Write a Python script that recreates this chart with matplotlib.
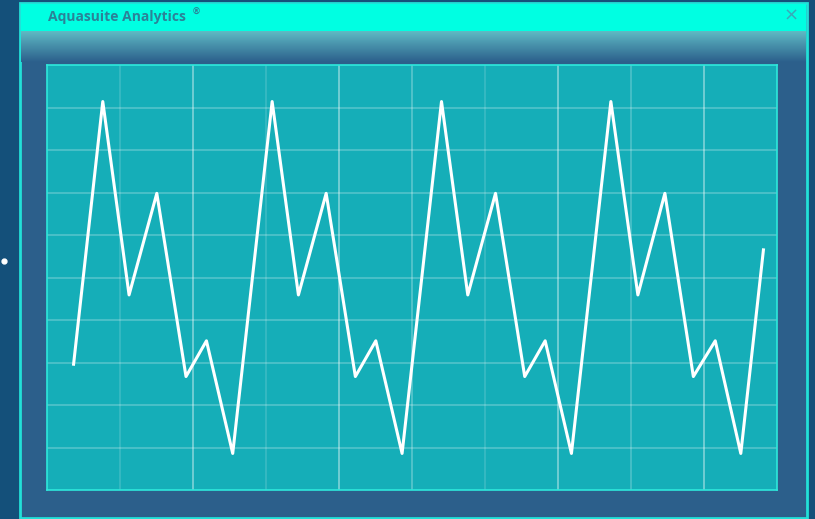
import numpy as np
import matplotlib
matplotlib.use('Agg')
from matplotlib import pyplot as plt
from matplotlib.patches import Rectangle

# data (x in grid units, y in percent of the panel)
x_vals = [0.36, 0.76, 1.12, 1.50, 1.90, 2.18, 2.54,
          3.08, 3.44, 3.82, 4.22, 4.50, 4.86,
          5.40, 5.76, 6.14, 6.54, 6.82, 7.18,
          7.72, 8.09, 8.46, 8.85, 9.15, 9.50, 9.81]
y_vals = [29.6, 91.4, 45.9, 69.8, 26.7, 35.1, 8.6,
          91.4, 45.9, 69.8, 26.7, 35.1, 8.6,
          91.4, 45.9, 69.8, 26.7, 35.1, 8.6,
          91.4, 45.9, 69.8, 26.7, 35.1, 8.6, 56.5]
vgrid = [1, 2, 3, 4, 5, 6, 7, 8, 9]
vgrid_alpha = [0.15, 0.42, 0.15, 0.42, 0.28, 0.15, 0.42, 0.22, 0.42]
hgrid = [10, 20, 30, 40, 50, 60, 70, 80, 90]
title = 'Aquasuite Analytics'

W, H = 815, 519
fig = plt.figure(figsize=(W / 100, H / 100), dpi=100)
fig.patch.set_facecolor('#14507a')

# background canvas in pixel coordinates
bg = fig.add_axes([0, 0, 1, 1])
bg.axis('off')
bg.add_patch(Rectangle((0, 0), W, H, color='#14507a', zorder=0))

# window body + border
bg.add_patch(Rectangle((20, 3), 787, 515, facecolor='#2c5f8b',
                       edgecolor='#22e0d8', lw=2, zorder=1))
# title bar
bg.add_patch(Rectangle((21, 4), 785, 27, facecolor='#00ffe2',
                       edgecolor='none', zorder=2))
# gradient band under title bar
grad = np.linspace(0, 1, 64).reshape(-1, 1)
top = np.array([95, 186, 196]) / 255
bot = np.array([44, 96, 140]) / 255
img = top + (bot - top) * grad[..., None]
img = np.repeat(img, 2, axis=1)
bg.imshow(img, extent=(21, 806, 62, 31), aspect='auto', zorder=2)
bg.set_xlim(0, W)
bg.set_ylim(H, 0)

bg.text(48, 17.5, title, fontsize=10, fontweight='bold', family='Open Sans',
        color='#2b8298', va='center', ha='left', zorder=3)
bg.text(192, 12, '®', fontsize=6.5, fontweight='bold', family='DejaVu Sans',
        color='#2b8298', va='center', ha='left', zorder=3)
bg.text(791, 16, '×', fontsize=13, family='DejaVu Sans',
        color='#3aa8b8', va='center', ha='center', zorder=3)
bg.plot([3.5], [261], 'o', color='white', ms=3.5, zorder=3)

# chart panel
ax = fig.add_axes([47.3 / W, (H - 490) / H, 730 / W, 425 / H])
ax.set_facecolor('#15aeb8')
ax.set_xlim(0, 10)
ax.set_ylim(0, 100)
ax.set_xticks([])
ax.set_yticks([])
for s in ax.spines.values():
    s.set_color('#2ee8dc')
    s.set_linewidth(1.2)

for gx, ga in zip(vgrid, vgrid_alpha):
    ax.axvline(gx, color='white', lw=1.3, alpha=ga, zorder=1)
for gy in hgrid:
    ax.axhline(gy, color='white', lw=1.5, alpha=0.22, zorder=1)

ax.plot(x_vals, y_vals, color='white', lw=2.2, zorder=3)

fig.savefig('out.png', dpi=100, facecolor=fig.get_facecolor())
